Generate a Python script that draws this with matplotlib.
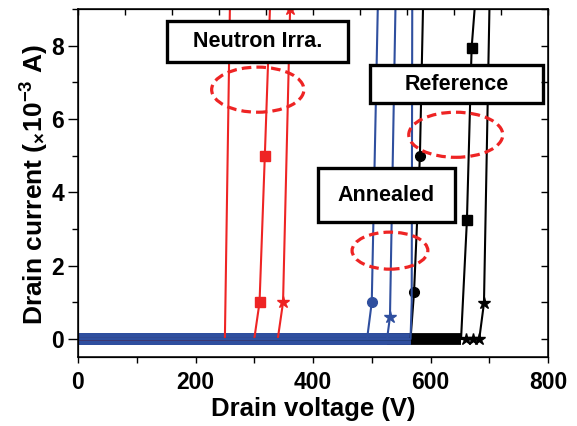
import matplotlib.pyplot as plt
import matplotlib.patches as patches
from matplotlib.ticker import MultipleLocator
import numpy as np

plt.rcParams['font.family'] = ['Liberation Sans', 'DejaVu Sans']
plt.rcParams['font.weight'] = 'bold'
plt.rcParams['mathtext.fontset'] = 'custom'
plt.rcParams['mathtext.rm'] = 'Liberation Sans:bold'
plt.rcParams['mathtext.default'] = 'rm'

# Colors
C_RED = '#ee2424'
C_BLUE = '#2f4f9f'
C_BLACK = 'black'

# ---- Data (drain voltage in V, drain current in mA) ----
# Neutron irradiated
red1_v = [0, 250, 259]
red1_i = [0, 0, 9.5]
red2_v = [0, 300, 309, 318, 328]
red2_i = [0, 0, 1.0, 5.0, 9.6]
red3_v = [0, 340, 349, 361]
red3_i = [0, 0, 1.0, 9.0]

# Annealed
blue1_v = [0, 492, 500, 511]
blue1_i = [0, 0, 1.0, 9.6]
blue2_v = [0, 526, 531, 541]
blue2_i = [0, 0, 0.6, 9.6]
blue3_v = [0, 566, 568, 569]
blue3_i = [0, 0, 1.0, 9.6]

# Reference
black1_v = [0, 566, 572, 582, 588]
black1_i = [0, 0, 1.28, 5.0, 9.6]
black2_v = [0, 652, 662, 670, 678]
black2_i = [0, 0, 3.24, 7.94, 9.6]
black3_v = [0, 660, 672, 683, 691, 701]
black3_i = [0, 0, 0, 0, 0.98, 9.6]

x_ticks = [0, 200, 400, 600, 800]
y_ticks = [0, 2, 4, 6, 8]

fig = plt.figure(figsize=(5.77, 4.26), dpi=100)
ax = fig.add_axes([78 / 577, 1 - 357 / 426, 470 / 577, 348 / 426])
ax.set_xlim(0, 800)
ax.set_ylim(-0.49, 9.0)


def draw_curve(v, i, color, marker, first_mark, ms=7, band_end=None):
    # thick band on the zero line (dense markers in the original)
    if band_end is not None:
        ax.plot(v[:band_end], i[:band_end], color=color, lw=8.5,
                solid_capstyle='butt', zorder=2)
    ax.plot(v, i, color=color, lw=1.5, marker=marker, ms=ms,
            markevery=list(range(first_mark, len(v))), zorder=3)


# Red - neutron irradiated
draw_curve(red1_v, red1_i, C_RED, None, 2)
draw_curve(red2_v, red2_i, C_RED, 's', 2)
draw_curve(red3_v, red3_i, C_RED, '*', 2, ms=9)

# Black - reference
draw_curve(black1_v, black1_i, C_BLACK, 'o', 2, band_end=2)
draw_curve(black2_v, black2_i, C_BLACK, 's', 2, band_end=2)
draw_curve(black3_v, black3_i, C_BLACK, '*', 1, ms=9)

# Blue - annealed
draw_curve(blue1_v, blue1_i, C_BLUE, 'o', 2, band_end=2)
draw_curve(blue2_v, blue2_i, C_BLUE, '*', 2, ms=9, band_end=2)
draw_curve(blue3_v, blue3_i, C_BLUE, None, 2, band_end=2)

# Dashed ellipses
for (cx, cy, w, h) in [(306, 6.80, 157, 1.23), (643, 5.57, 160, 1.23), (531, 2.41, 129, 1.01)]:
    ax.add_patch(patches.Ellipse((cx, cy), w, h, fill=False, edgecolor=C_RED,
                                 lw=2.3, linestyle=(0, (3, 1.6)), zorder=4))


# Label boxes
def draw_box(x0, x1, y0, y1, text):
    rect = patches.Rectangle((x0, y0), x1 - x0, y1 - y0, facecolor='white',
                             edgecolor='black', lw=2.4, zorder=5)
    ax.add_patch(rect)
    ax.text((x0 + x1) / 2, (y0 + y1) / 2, text, ha='center', va='center',
            fontsize=15.5, fontweight='bold', zorder=6)


draw_box(151.5, 459.6, 7.55, 8.66, "Neutron Irra.")
draw_box(497, 791.5, 6.43, 7.47, "Reference")
draw_box(408.5, 641.7, 3.19, 4.66, "Annealed")

# Ticks
for sp in ax.spines.values():
    sp.set_linewidth(1.1)
ax.set_xticks(x_ticks)
ax.xaxis.set_minor_locator(MultipleLocator(100))
ax.set_yticks(y_ticks)
ax.yaxis.set_minor_locator(MultipleLocator(1))
ax.tick_params(axis='x', which='both', direction='out', length=4, width=1, pad=6, labelsize=16.5)
ax.tick_params(axis='y', which='major', direction='out', length=7, width=1, pad=3, labelsize=16.5)
ax.tick_params(axis='y', which='minor', direction='out', length=4, width=1)

# top and right ticks pointing inward
axt = ax.twiny()
axt.set_xlim(0, 800)
axt.set_xticks(np.arange(0, 801, 80))
axt.tick_params(axis='x', direction='in', length=4, width=1, labeltop=False)
axr = ax.twinx()
axr.set_ylim(-0.49, 9.0)
axr.set_yticks(np.arange(0, 10, 1))
axr.tick_params(axis='y', direction='in', length=5, width=1, labelright=False)

fig.text(313 / 577, 1 - 409 / 426, "Drain voltage (V)", ha='center', va='center',
         fontsize=18.5, fontweight='bold')
fig.text(35 / 577, 1 - 185 / 426, r"Drain current ($_{\times}$10$^{-3}$ A)", ha='center',
         va='center', rotation=90, fontsize=19, fontweight='bold')

plt.savefig("out.png", dpi=100)
plt.close()
